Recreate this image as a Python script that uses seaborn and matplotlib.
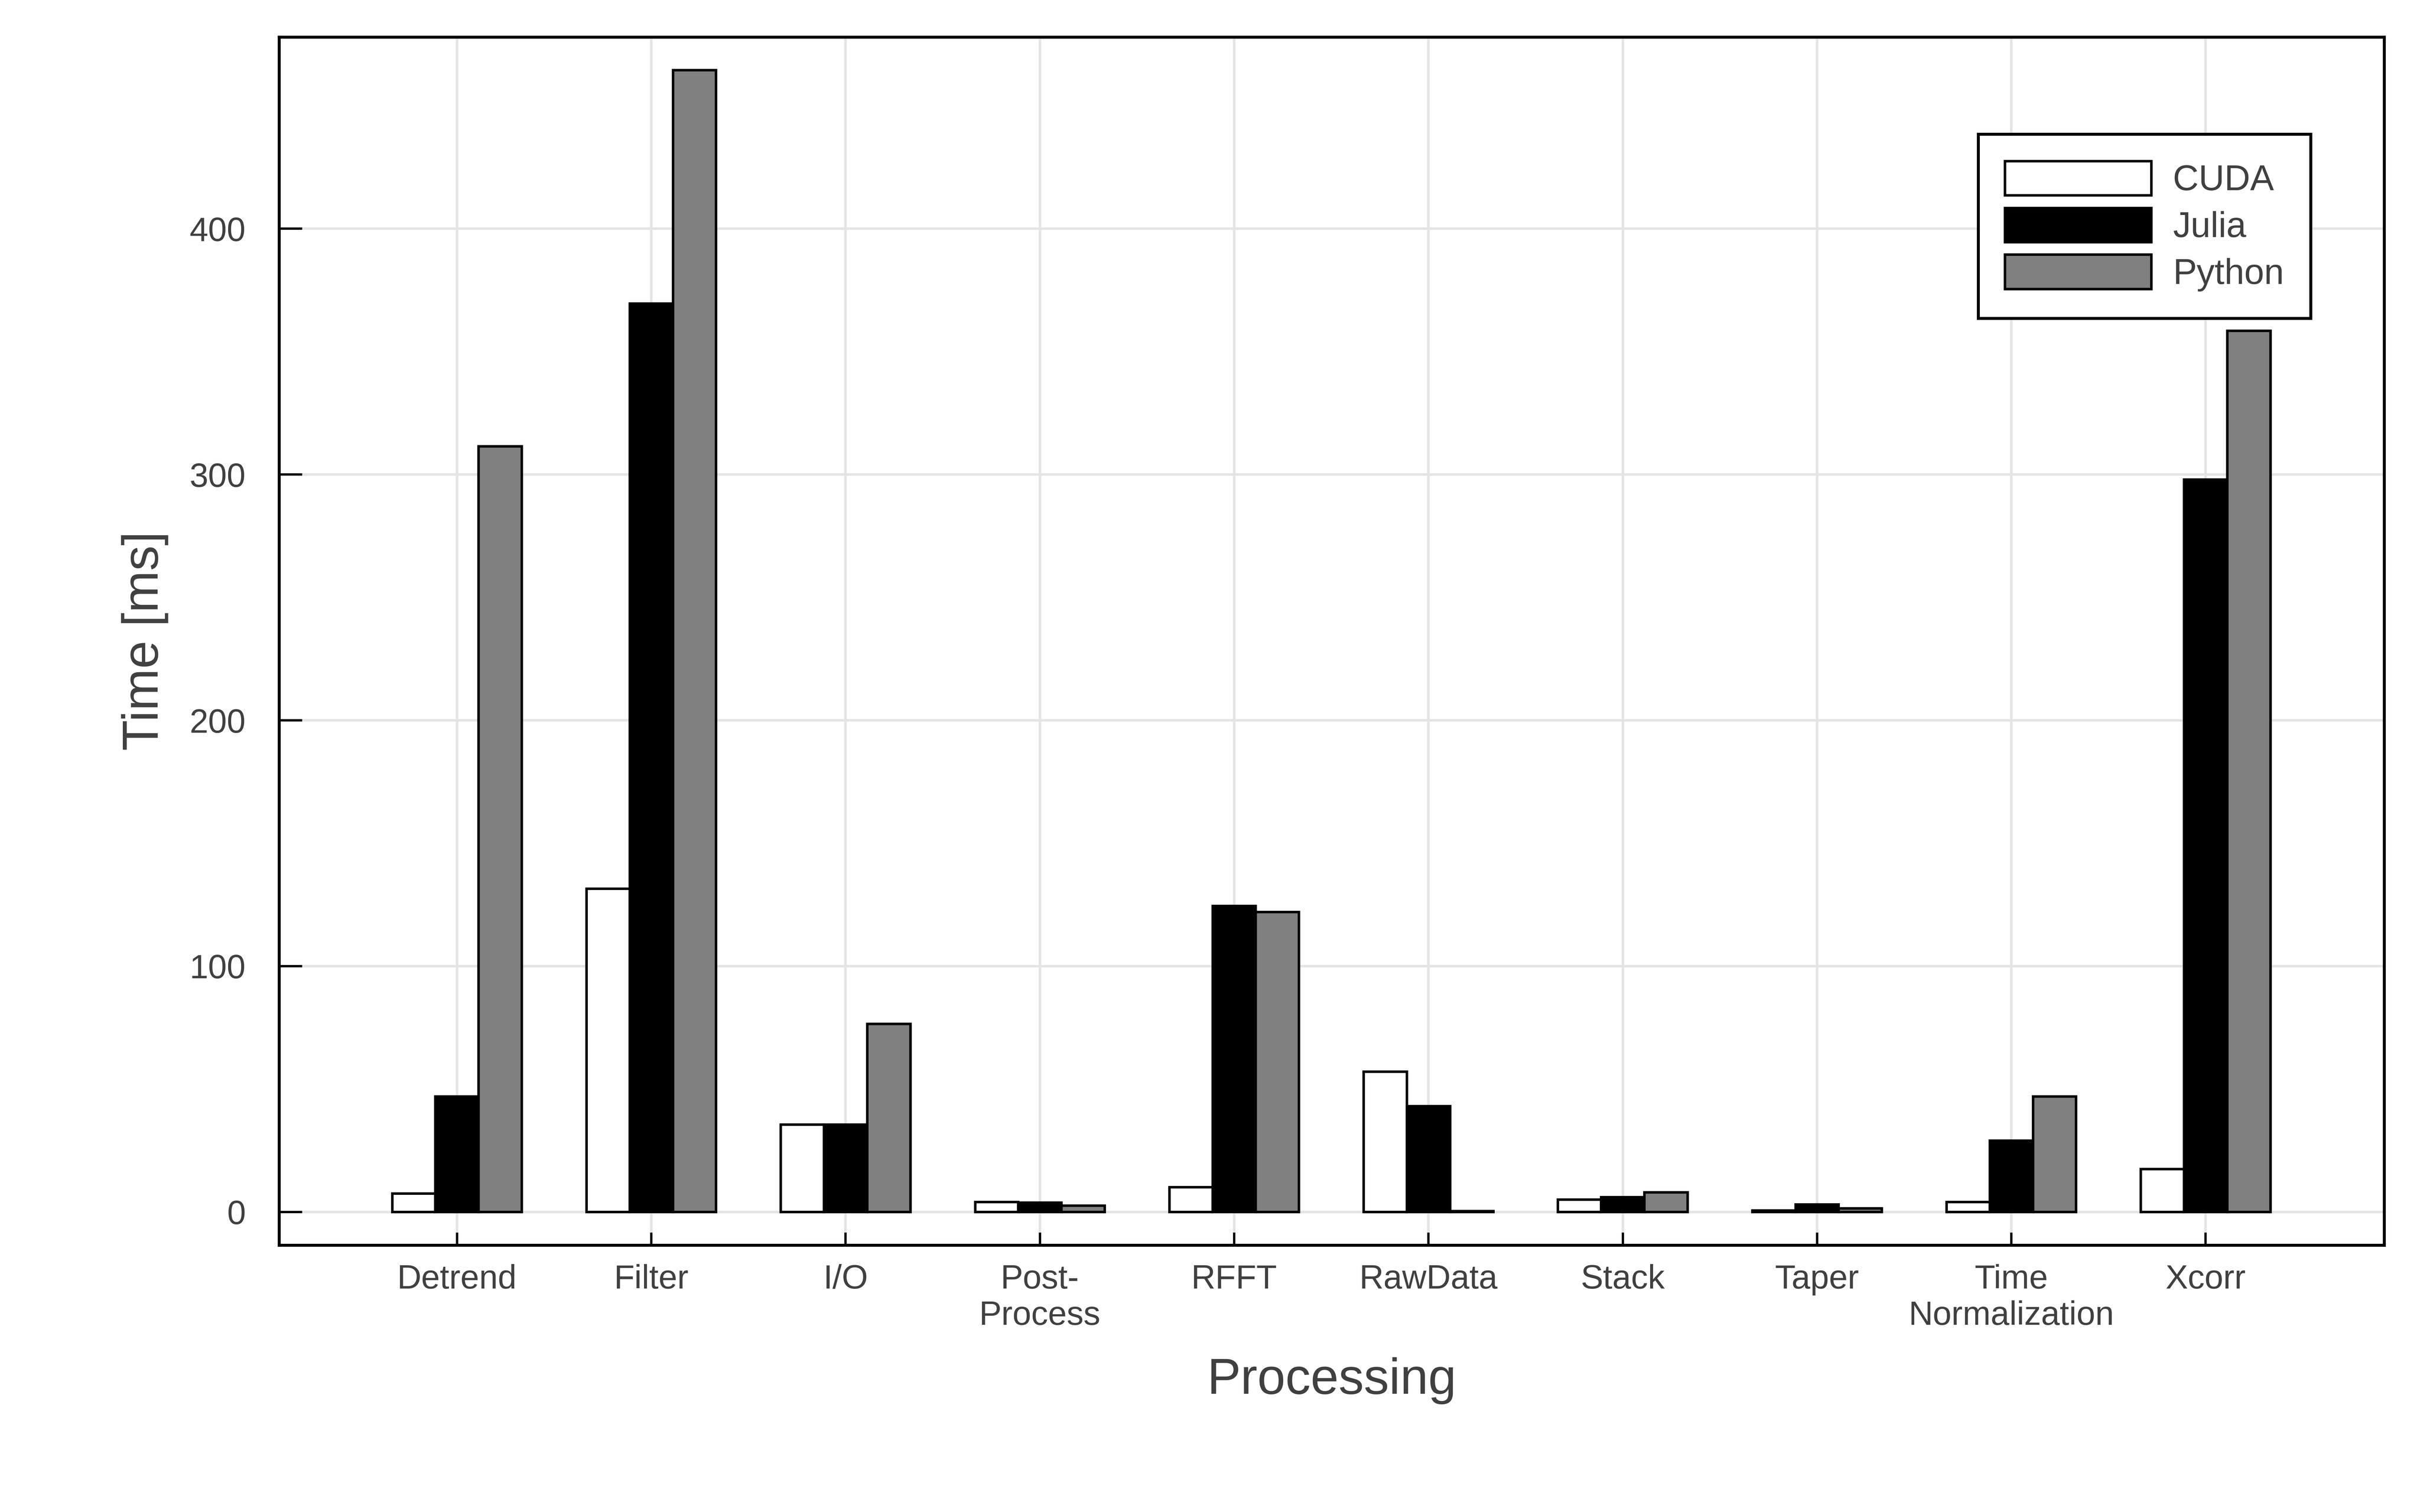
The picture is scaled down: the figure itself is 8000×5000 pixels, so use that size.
import pandas as pd
import numpy as np
import matplotlib
matplotlib.use("Agg")
import matplotlib.pyplot as plt
import seaborn as sns
from matplotlib.patches import Patch

# --- data ---
steps = ["Detrend", "Filter", "I/O", "Post-\nProcess", "RFFT", "RawData",
         "Stack", "Taper", "Time\nNormalization", "Xcorr"]
cuda_ms = [7.5, 131.5, 35.5, 4.0, 10.0, 57.0, 5.0, 0.6, 4.0, 17.5]
julia_ms = [47.0, 369.5, 35.5, 3.8, 124.5, 43.0, 6.0, 3.0, 29.0, 298.0]
python_ms = [311.5, 464.5, 76.5, 2.5, 122.0, 0.3, 8.0, 1.5, 47.0, 358.5]
frameworks = ["CUDA", "Julia", "Python"]
colors = ["#ffffff", "#000000", "#808080"]

df = pd.DataFrame({
    "step": steps * 3,
    "framework": np.repeat(frameworks, len(steps)),
    "time": cuda_ms + julia_ms + python_ms,
})

sns.set_style("white")
plt.rcParams["font.family"] = ["Liberation Sans", "DejaVu Sans"]
text_col = "#404040"

fig = plt.figure(figsize=(16, 10), dpi=500)
ax = fig.add_axes([0.1154, 0.1765, 0.8699, 0.799])

sns.barplot(data=df, x="step", y="time", hue="framework", order=steps,
            hue_order=frameworks, palette=colors, width=0.667, gap=0,
            edgecolor="black", linewidth=1.2, saturation=1, legend=False,
            errorbar=None, ax=ax, zorder=3)

ax.set_xlim(-0.915, 9.92)
ax.set_ylim(-13.5, 478)
ax.set_yticks([0, 100, 200, 300, 400])

ax.grid(True, color="#e4e4e4", linewidth=1.2, zorder=0)
ax.set_axisbelow(True)
for s in ax.spines.values():
    s.set_color("black")
    s.set_linewidth(1.4)

ax.tick_params(axis="y", direction="in", length=11, width=1.1, color="black",
               labelsize=16, labelcolor=text_col, pad=16, left=True)
ax.tick_params(axis="x", direction="in", length=6, width=1.1, color="black",
               labelsize=16, labelcolor=text_col, pad=9, bottom=True)

ax.set_xlabel("Processing", fontsize=24, color=text_col, labelpad=12)
ax.set_ylabel("Time [ms]", fontsize=24, color=text_col, labelpad=10)

handles = [Patch(facecolor=c, edgecolor="black", linewidth=1.2) for c in colors]
leg = ax.legend(handles, frameworks, loc="upper right", bbox_to_anchor=(0.965, 0.9195),
                borderaxespad=0, fontsize=17, frameon=True, fancybox=False,
                framealpha=1, edgecolor="black", handlelength=4.1,
                handleheight=1.1, labelspacing=0.28, handletextpad=0.6,
                borderpad=0.75)
leg.get_frame().set_linewidth(1.4)
for t in leg.get_texts():
    t.set_color(text_col)

fig.savefig("out.png", dpi=500)
